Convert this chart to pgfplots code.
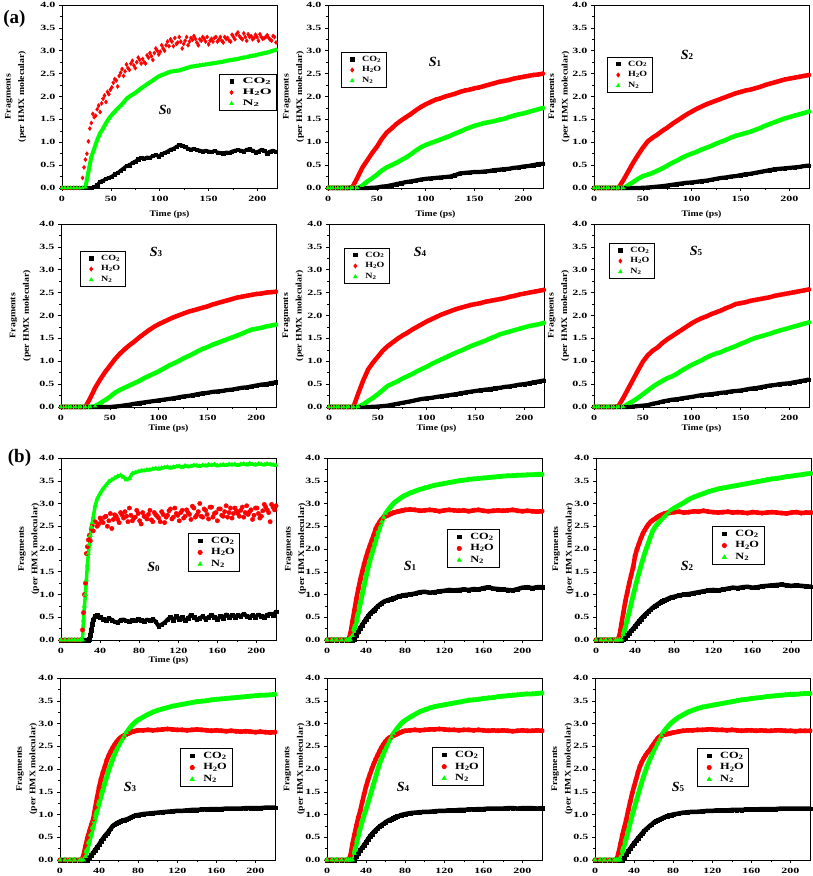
\documentclass[border=0pt]{standalone}
\usepackage{fontspec}
\setmainfont{Liberation Serif}
\newfontfamily\tickfam[FakeStretch=1.5]{Liberation Serif}
\newfontfamily\labfam[FakeStretch=1.15]{Liberation Serif}
\newfontfamily\legAfam[FakeStretch=1.8]{Liberation Serif}
\newfontfamily\legBfam[FakeStretch=1.25]{Liberation Serif}
\newfontfamily\legCfam[FakeStretch=1.3]{Liberation Serif}
\usepackage{graphicx}
\usepackage{pgfplots}
\usepackage{pgfplotstable}
\pgfplotsset{compat=1.18}
\newcommand{\tickfont}{\tickfam\bfseries\fontsize{8}{9}\selectfont}
\newcommand{\labfont}{\labfam\bfseries\fontsize{8.5}{13.5}\selectfont}
\newcommand{\legAfont}{\legAfam\bfseries\fontsize{8.5}{10}\selectfont}
\newcommand{\legBfont}{\legBfam\bfseries\fontsize{8}{9.5}\selectfont}
\newcommand{\legCfont}{\legCfam\bfseries\fontsize{9.5}{11}\selectfont}
\newcommand{\sub}[1]{\raisebox{-0.25ex}{\scalebox{0.7}{#1}}}
\newcommand{\Slab}[1]{{\fontsize{14}{14}\selectfont\bfseries\itshape S}{\fontsize{9}{9}\selectfont\bfseries #1}}

\pgfplotsset{
  base/.style={scale only axis, width=215pt, xmin=0, xmax=220, ymin=0, ymax=4,
    ytick={0,0.5,1,1.5,2,2.5,3,3.5,4}, minor x tick num=1, minor y tick num=1,
    tick align=outside, xtick pos=left, ytick pos=left,
    major tick length=3pt, minor tick length=1.6pt,
    axis line style={line width=0.6pt},
    every tick/.style={black, line width=0.5pt},
    clip=false,
    ticklabel style={font=\tickfont},
    /pgf/number format/assume math mode=true,
    yticklabel style={/pgf/number format/.cd, fixed, fixed zerofill, precision=1},
    xticklabel style={yshift=-1.5pt, /pgf/number format/.cd, fixed, precision=0},
    ylabel={Fragments\\(per HMX molecular)},
    ylabel style={font=\labfont, align=center},
    legend cell align=left,
    legend style={draw=black, line width=0.6pt, fill=white, inner xsep=3pt, inner ysep=1.5pt},
  },
  legimg/.style={legend image code/.code={\path[draw=none,fill=none] (0pt,0pt) -- (2*#1,0pt); \draw[##1] plot coordinates {(#1,0pt)};}},
  pa/.style={base, xtick={0,50,100,150,200}, legend style={font=\legBfont}, legimg=8pt},
  pb/.style={base, xtick={0,40,80,120,160,200}, legend style={font=\legCfont}, legimg=9pt},
  ylx/.style={ylabel style={at={(axis description cs:#1,0.5)}, anchor=center}},
  tlab/.style={xlabel={Time (ps)}, xlabel style={font=\labfont, at={(axis description cs:0.5,#1)}, anchor=center}},
  band/.style={no markers, line width=#1, line join=round, line cap=round, forget plot},
  co2a/.style={only marks, mark=square*, mark size=1.6pt, black},
  h2oa/.style={only marks, mark=diamond*, mark size=2.1pt, red},
  n2a/.style={only marks, mark=triangle*, mark size=2.1pt, green},
  co2b/.style={only marks, mark=square*, mark size=1.8pt, black},
  h2ob/.style={only marks, mark=*, mark size=2.2pt, red},
  n2b/.style={only marks, mark=triangle*, mark size=2.4pt, green},
}

\newcommand{\smoothA}[1]{%
  \addplot[band=4.2pt, black] table[x=t,y=c]{#1};
  \addplot[co2a] table[x=t,y=c]{#1}; \addlegendentry{CO\sub{2}}
  \addplot[band=4.5pt, red] table[x=t,y=h]{#1};
  \addplot[h2oa] table[x=t,y=h]{#1}; \addlegendentry{H\sub{2}O}
  \addplot[band=4.5pt, green] table[x=t,y=n]{#1};
  \addplot[n2a] table[x=t,y=n]{#1}; \addlegendentry{N\sub{2}}
}
\newcommand{\smoothB}[1]{%
  \addplot[band=4.5pt, black] table[x=t,y=c]{#1};
  \addplot[co2b] table[x=t,y=c]{#1}; \addlegendentry{CO\sub{2}}
  \addplot[band=4.5pt, red] table[x=t,y=h]{#1};
  \addplot[h2ob] table[x=t,y=h]{#1}; \addlegendentry{H\sub{2}O}
  \addplot[band=4.8pt, green] table[x=t,y=n]{#1};
  \addplot[n2b] table[x=t,y=n]{#1}; \addlegendentry{N\sub{2}}
}

% ---------------- (a) data ----------------
\pgfplotstableread{
t c h n
0 0 0 0
3 0 0 0
6 0 0 0
9 0 0 0
12 0 0 0
15 0 0 0
18 0 0 0
21 0 0.22 0
24 0 0.62 0.02
27 0 1.02 0.35
30 0 1.42 0.68
33 0.02 1.55 0.86
36 0.06 1.72 1.05
39 0.14 1.66 1.2
42 0.16 1.95 1.3
45 0.2 1.88 1.42
48 0.22 2.05 1.52
51 0.25 2.2 1.6
54 0.3 2.38 1.67
57 0.33 2.22 1.74
60 0.38 2.52 1.8
63 0.43 2.45 1.87
66 0.48 2.7 1.95
69 0.5 2.58 2.0
72 0.55 2.78 2.04
75 0.58 2.62 2.08
78 0.63 2.85 2.13
81 0.66 2.72 2.18
84 0.64 2.75 2.22
87 0.67 2.9 2.27
90 0.66 2.95 2.31
93 0.7 2.8 2.35
96 0.72 3.05 2.4
99 0.69 2.92 2.44
102 0.74 3.12 2.47
105 0.77 3.0 2.49
108 0.8 3.2 2.52
111 0.84 3.25 2.54
114 0.86 3.1 2.55
117 0.9 3.15 2.56
120 0.94 3.3 2.57
123 0.93 3.05 2.59
126 0.9 3.22 2.61
129 0.86 3.12 2.63
132 0.84 3.28 2.65
135 0.86 3.32 2.66
138 0.83 3.18 2.67
141 0.82 3.25 2.68
144 0.8 3.3 2.69
147 0.82 3.2 2.7
150 0.8 3.14 2.71
153 0.79 3.26 2.72
156 0.81 3.28 2.73
159 0.78 3.2 2.74
162 0.77 3.3 2.75
165 0.76 3.18 2.76
168 0.78 3.26 2.78
171 0.77 3.22 2.79
174 0.8 3.35 2.8
177 0.82 3.25 2.81
180 0.83 3.4 2.82
183 0.82 3.28 2.84
186 0.8 3.38 2.85
189 0.84 3.22 2.86
192 0.85 3.3 2.88
195 0.82 3.25 2.89
198 0.78 3.35 2.9
201 0.8 3.22 2.92
204 0.84 3.3 2.93
207 0.82 3.28 2.95
210 0.76 3.34 2.96
213 0.8 3.24 2.98
216 0.82 3.32 3.0
219 0.79 3.18 3.02
}\tAzero

\pgfplotstableread{
t h
22.5 0.45
25.5 0.75
28.5 1.3
31.5 1.62
34.5 1.58
37.5 1.8
40.5 1.85
43.5 2.02
46.5 2.1
49.5 2.15
52.5 2.3
55.5 2.35
58.5 2.45
61.5 2.6
64.5 2.55
67.5 2.62
70.5 2.72
73.5 2.68
76.5 2.75
79.5 2.8
82.5 2.82
85.5 2.72
88.5 2.85
91.5 2.88
94.5 2.95
97.5 3.0
100.5 2.98
103.5 3.05
106.5 3.12
109.5 3.1
112.5 3.2
115.5 3.28
118.5 3.18
121.5 3.2
124.5 3.15
127.5 3.3
130.5 3.2
133.5 3.24
136.5 3.26
139.5 3.12
142.5 3.22
145.5 3.26
148.5 3.3
151.5 3.22
154.5 3.2
157.5 3.3
160.5 3.24
163.5 3.22
166.5 3.3
169.5 3.28
172.5 3.2
175.5 3.3
178.5 3.36
181.5 3.32
184.5 3.25
187.5 3.3
190.5 3.36
193.5 3.32
196.5 3.28
199.5 3.3
202.5 3.36
205.5 3.26
208.5 3.3
211.5 3.28
214.5 3.22
217.5 3.3
}\tAzeroH

\pgfplotstableread{
t c h n
0 0 0 0
5 0 0 0
10 0 0 0
15 0 0 0
20 0 0 0
25 0 0.02 0
30 0 0.22 0
35 0 0.44 0.05
40 0 0.6 0.14
45 0.005 0.76 0.21
50 0.01 0.9 0.29
55 0.03 1.07 0.38
60 0.04 1.21 0.45
65 0.06 1.3 0.5
70 0.085 1.4 0.55
75 0.105 1.48 0.61
80 0.13 1.55 0.67
85 0.145 1.62 0.74
90 0.165 1.7 0.82
95 0.185 1.77 0.89
100 0.2 1.83 0.94
105 0.21 1.88 0.98
110 0.22 1.93 1.02
115 0.23 1.96 1.06
120 0.24 2.0 1.1
125 0.25 2.03 1.14
130 0.28 2.06 1.19
135 0.32 2.1 1.23
140 0.33 2.13 1.28
145 0.34 2.15 1.32
150 0.35 2.18 1.36
155 0.35 2.2 1.39
160 0.36 2.23 1.42
165 0.37 2.26 1.44
170 0.39 2.29 1.46
175 0.4 2.32 1.49
180 0.41 2.34 1.51
185 0.42 2.36 1.55
190 0.44 2.39 1.58
195 0.45 2.41 1.61
200 0.47 2.43 1.63
205 0.48 2.45 1.66
210 0.5 2.47 1.69
215 0.52 2.48 1.72
220 0.53 2.5 1.75
}\tAone

\pgfplotstableread{
t c h n
0 0 0 0
5 0 0 0
10 0 0 0
15 0 0 0
20 0 0 0
25 0 0 0
30 0 0.17 0
35 0 0.36 0.06
40 0 0.55 0.13
45 0 0.72 0.2
50 0.005 0.88 0.26
55 0.01 1.02 0.29
60 0.02 1.1 0.33
65 0.03 1.17 0.38
70 0.04 1.25 0.43
75 0.055 1.32 0.49
80 0.07 1.4 0.55
85 0.085 1.47 0.6
90 0.1 1.54 0.66
95 0.115 1.61 0.71
100 0.12 1.67 0.75
105 0.135 1.73 0.79
110 0.15 1.78 0.84
115 0.16 1.83 0.88
120 0.18 1.87 0.92
125 0.2 1.91 0.97
130 0.22 1.95 1.01
135 0.23 1.99 1.05
140 0.25 2.03 1.1
145 0.26 2.07 1.14
150 0.28 2.1 1.17
155 0.3 2.13 1.2
160 0.31 2.15 1.23
165 0.33 2.18 1.27
170 0.35 2.21 1.31
175 0.37 2.25 1.36
180 0.39 2.28 1.4
185 0.41 2.31 1.44
190 0.42 2.34 1.48
195 0.43 2.37 1.52
200 0.44 2.39 1.55
205 0.45 2.41 1.58
210 0.46 2.43 1.61
215 0.48 2.45 1.64
220 0.49 2.47 1.67
}\tAtwo

\pgfplotstableread{
t c h n
0 0 0 0
5 0 0 0
10 0 0 0
15 0 0 0
20 0 0 0
25 0 0 0
30 0 0.2 0
35 0 0.42 0.02
40 0 0.6 0.08
45 0 0.76 0.15
50 0 0.9 0.22
55 0.01 1.04 0.31
60 0.02 1.16 0.37
65 0.035 1.26 0.42
70 0.05 1.35 0.47
75 0.07 1.43 0.52
80 0.085 1.52 0.57
85 0.1 1.6 0.63
90 0.115 1.68 0.68
95 0.13 1.75 0.73
100 0.145 1.81 0.78
105 0.16 1.86 0.84
110 0.175 1.91 0.9
115 0.19 1.96 0.95
120 0.21 2.0 1.0
125 0.23 2.04 1.06
130 0.24 2.08 1.11
135 0.26 2.11 1.16
140 0.28 2.14 1.22
145 0.3 2.17 1.27
150 0.31 2.2 1.31
155 0.33 2.24 1.36
160 0.34 2.27 1.4
165 0.35 2.3 1.44
170 0.37 2.33 1.48
175 0.38 2.36 1.52
180 0.4 2.39 1.56
185 0.42 2.41 1.6
190 0.43 2.43 1.65
195 0.45 2.45 1.69
200 0.47 2.47 1.71
205 0.49 2.48 1.73
210 0.5 2.5 1.76
215 0.52 2.51 1.78
220 0.54 2.52 1.8
}\tAthree

\pgfplotstableread{
t c h n
0 0 0 0
5 0 0 0
10 0 0 0
15 0 0 0
20 0 0 0
25 0 0 0
30 0 0.3 0
35 0 0.58 0.06
40 0 0.82 0.13
45 0.005 0.97 0.2
50 0.01 1.1 0.28
55 0.02 1.23 0.37
60 0.03 1.33 0.46
65 0.05 1.41 0.51
70 0.07 1.49 0.56
75 0.09 1.56 0.62
80 0.11 1.62 0.67
85 0.13 1.69 0.72
90 0.155 1.75 0.78
95 0.175 1.81 0.83
100 0.19 1.87 0.88
105 0.2 1.92 0.94
110 0.22 1.97 0.99
115 0.235 2.02 1.04
120 0.25 2.06 1.09
125 0.265 2.1 1.14
130 0.28 2.14 1.19
135 0.3 2.17 1.23
140 0.32 2.2 1.28
145 0.335 2.23 1.33
150 0.35 2.25 1.37
155 0.365 2.27 1.41
160 0.38 2.3 1.45
165 0.39 2.32 1.5
170 0.41 2.34 1.54
175 0.42 2.36 1.59
180 0.44 2.38 1.62
185 0.45 2.41 1.65
190 0.47 2.43 1.68
195 0.49 2.46 1.71
200 0.5 2.48 1.74
205 0.52 2.5 1.77
210 0.54 2.52 1.79
215 0.56 2.54 1.81
220 0.58 2.56 1.84
}\tAfour

\pgfplotstableread{
t c h n
0 0 0 0
5 0 0 0
10 0 0 0
15 0 0 0
20 0 0 0
25 0 0.02 0
30 0 0.2 0
35 0 0.4 0.07
40 0.01 0.6 0.13
45 0.02 0.8 0.2
50 0.03 0.99 0.28
55 0.04 1.13 0.36
60 0.07 1.23 0.44
65 0.09 1.3 0.51
70 0.12 1.4 0.57
75 0.14 1.48 0.63
80 0.16 1.55 0.67
85 0.17 1.62 0.73
90 0.19 1.69 0.8
95 0.205 1.76 0.86
100 0.22 1.83 0.92
105 0.24 1.89 0.97
110 0.26 1.94 1.02
115 0.27 1.98 1.08
120 0.28 2.03 1.13
125 0.295 2.07 1.17
130 0.31 2.11 1.2
135 0.32 2.16 1.25
140 0.34 2.2 1.29
145 0.35 2.25 1.33
150 0.36 2.27 1.38
155 0.38 2.29 1.42
160 0.4 2.32 1.47
165 0.41 2.34 1.51
170 0.43 2.36 1.54
175 0.45 2.38 1.57
180 0.47 2.4 1.6
185 0.48 2.43 1.64
190 0.5 2.45 1.67
195 0.51 2.47 1.7
200 0.52 2.49 1.73
205 0.54 2.51 1.76
210 0.56 2.53 1.79
215 0.58 2.55 1.82
220 0.6 2.57 1.85
}\tAfive

% ---------------- (b) data ----------------
\pgfplotstableread{
t c h n
0 0 0 0
4 0 0 0
8 0 0 0
11 0 0 0
14 0 0 0
17 0 0 0
20 0 0 0
22 0 0.22 0
23 0 0.6 0.44
24 0 1.0 0.75
25 0 1.25 1.0
26 0 1.9 1.32
27 0 2.05 1.65
28 0 2.2 1.9
29 0.02 2.3 2.1
30 0.1 2.18 2.3
31 0.22 2.45 2.48
32 0.35 2.52 2.58
33 0.45 2.4 2.7
35 0.52 2.6 2.95
37 0.55 2.5 3.1
40 0.5 2.68 3.22
43 0.46 2.58 3.32
46 0.42 2.72 3.4
49 0.48 2.62 3.48
52 0.44 2.45 3.52
55 0.4 2.75 3.56
58 0.38 2.65 3.6
61 0.44 2.8 3.62
64 0.45 2.68 3.58
67 0.42 2.72 3.52
70 0.4 2.9 3.55
73 0.44 2.62 3.66
76 0.42 2.7 3.68
79 0.46 2.78 3.7
82 0.43 2.55 3.72
85 0.4 2.72 3.72
88 0.45 2.66 3.74
91 0.42 2.85 3.74
94 0.46 2.6 3.76
97 0.4 2.75 3.77
100 0.3 2.68 3.76
103 0.34 2.82 3.78
106 0.38 2.58 3.79
109 0.45 2.74 3.8
112 0.5 2.88 3.78
115 0.44 2.7 3.8
118 0.52 2.78 3.81
121 0.46 2.62 3.82
124 0.5 2.85 3.8
127 0.42 2.72 3.83
130 0.48 2.8 3.81
133 0.55 2.65 3.82
136 0.5 2.9 3.84
139 0.45 2.75 3.83
142 0.48 3.0 3.82
145 0.52 2.7 3.84
148 0.46 2.85 3.83
151 0.5 2.66 3.85
154 0.55 2.92 3.84
157 0.5 2.78 3.86
160 0.45 2.62 3.83
163 0.52 2.88 3.84
166 0.48 2.72 3.85
169 0.56 2.95 3.84
172 0.5 2.8 3.86
175 0.54 2.68 3.85
178 0.5 2.9 3.86
181 0.55 2.78 3.84
184 0.52 2.85 3.86
187 0.58 2.7 3.87
190 0.52 2.95 3.85
193 0.5 2.82 3.88
196 0.55 2.65 3.86
199 0.5 2.9 3.85
202 0.56 2.78 3.87
205 0.52 2.72 3.86
208 0.5 2.98 3.85
211 0.55 2.86 3.87
214 0.58 2.6 3.86
217 0.55 2.92 3.85
220 0.62 2.95 3.84
}\tBzero

\pgfplotstableread{
t h
38.5 2.55
41.5 2.62
44.5 2.7
47.5 2.5
50.5 2.78
53.5 2.65
56.5 2.72
59.5 2.58
62.5 2.75
65.5 2.82
68.5 2.6
71.5 2.74
74.5 2.68
77.5 2.85
80.5 2.62
83.5 2.8
86.5 2.7
89.5 2.76
92.5 2.64
95.5 2.8
98.5 2.72
101.5 2.6
104.5 2.76
107.5 2.7
110.5 2.84
113.5 2.66
116.5 2.9
119.5 2.74
122.5 2.8
125.5 2.68
128.5 2.86
131.5 2.76
134.5 2.94
137.5 2.7
140.5 2.82
143.5 2.72
146.5 2.88
149.5 2.76
152.5 2.92
155.5 2.7
158.5 2.8
161.5 2.88
164.5 2.74
167.5 2.82
170.5 2.7
173.5 2.9
176.5 2.78
179.5 2.84
182.5 2.72
185.5 2.92
188.5 2.8
191.5 2.76
194.5 2.86
197.5 2.74
200.5 2.9
203.5 2.68
206.5 2.84
209.5 2.92
212.5 2.8
215.5 2.98
218.5 2.86
}\tBzeroH

\pgfplotstableread{
t c h n
0 0 0 0
5 0 0 0
10 0 0 0
15 0 0 0
20 0 0 0
22 0 0 0
24 0 0.15 0
26 0 0.4 0.1
28 0.02 0.65 0.25
30 0.1 0.9 0.4
32 0.18 1.12 0.6
34 0.26 1.32 0.8
36 0.33 1.5 1.0
38 0.4 1.67 1.2
40 0.46 1.82 1.4
42 0.52 1.96 1.58
44 0.58 2.08 1.75
46 0.62 2.2 1.9
48 0.66 2.32 2.05
50 0.7 2.45 2.2
52 0.74 2.53 2.35
54 0.78 2.6 2.48
56 0.81 2.66 2.6
58 0.84 2.7 2.7
60 0.86 2.72 2.78
62 0.87 2.74 2.84
64 0.89 2.76 2.9
66 0.9 2.78 2.95
68 0.92 2.8 3.0
70 0.93 2.81 3.04
72 0.95 2.82 3.07
74 0.96 2.83 3.1
76 0.97 2.84 3.13
78 0.98 2.85 3.16
80 0.99 2.86 3.18
85 1.0 2.87 3.23
90 1.02 2.86 3.27
95 1.05 2.84 3.31
100 1.06 2.85 3.34
105 1.04 2.86 3.37
110 1.05 2.85 3.4
115 1.07 2.83 3.42
120 1.08 2.85 3.44
125 1.1 2.86 3.46
130 1.09 2.85 3.48
135 1.1 2.84 3.5
140 1.11 2.85 3.51
145 1.1 2.83 3.53
150 1.12 2.85 3.54
155 1.11 2.86 3.55
160 1.14 2.84 3.56
165 1.16 2.83 3.57
170 1.13 2.84 3.58
175 1.12 2.85 3.59
180 1.11 2.84 3.6
185 1.1 2.85 3.61
190 1.09 2.86 3.61
195 1.12 2.84 3.62
200 1.15 2.83 3.62
205 1.16 2.84 3.63
210 1.14 2.83 3.63
215 1.16 2.82 3.64
220 1.16 2.83 3.64
}\tBone

\pgfplotstableread{
t c h n
0 0 0 0
5 0 0 0
10 0 0 0
15 0 0 0
20 0 0 0
22 0 0 0
24 0 0.1 0
26 0 0.35 0
28 0.01 0.6 0.12
30 0.05 0.85 0.28
32 0.1 1.05 0.45
34 0.15 1.25 0.62
36 0.2 1.43 0.8
38 0.25 1.6 0.98
40 0.3 1.85 1.15
42 0.36 2.0 1.32
44 0.41 2.12 1.48
46 0.46 2.24 1.63
48 0.51 2.34 1.78
50 0.55 2.42 1.92
52 0.59 2.49 2.04
54 0.63 2.55 2.16
56 0.67 2.6 2.28
58 0.71 2.63 2.4
60 0.74 2.66 2.47
62 0.77 2.69 2.53
64 0.8 2.72 2.58
66 0.83 2.74 2.63
68 0.85 2.76 2.68
70 0.87 2.78 2.72
72 0.89 2.79 2.76
74 0.91 2.8 2.8
76 0.93 2.8 2.84
78 0.94 2.81 2.87
80 0.95 2.81 2.9
85 0.98 2.82 2.96
90 1.0 2.8 3.02
95 1.01 2.81 3.09
100 1.03 2.83 3.14
105 1.05 2.82 3.18
110 1.07 2.84 3.22
115 1.09 2.82 3.26
120 1.1 2.81 3.29
125 1.09 2.8 3.32
130 1.11 2.81 3.34
135 1.13 2.82 3.36
140 1.15 2.8 3.38
145 1.14 2.81 3.4
150 1.16 2.8 3.42
155 1.17 2.79 3.44
160 1.15 2.81 3.46
165 1.16 2.8 3.48
170 1.18 2.79 3.5
175 1.19 2.8 3.52
180 1.2 2.81 3.54
185 1.21 2.8 3.55
190 1.22 2.79 3.57
195 1.2 2.78 3.59
200 1.19 2.8 3.6
205 1.2 2.81 3.62
210 1.19 2.79 3.63
215 1.18 2.8 3.65
220 1.17 2.8 3.66
}\tBtwo

\pgfplotstableread{
t c h n
0 0 0 0
5 0 0 0
10 0 0 0
15 0 0 0
20 0 0 0
22 0 0 0
24 0 0.1 0
26 0 0.3 0.08
28 0 0.48 0.25
30 0.04 0.63 0.42
32 0.1 0.77 0.58
34 0.16 0.9 0.75
36 0.22 1.15 0.92
38 0.28 1.38 1.08
40 0.34 1.6 1.25
42 0.41 1.78 1.4
44 0.47 1.93 1.55
46 0.53 2.06 1.7
48 0.58 2.2 1.84
50 0.63 2.3 1.98
52 0.69 2.39 2.1
54 0.75 2.47 2.22
56 0.78 2.54 2.33
58 0.81 2.6 2.43
60 0.83 2.65 2.52
62 0.85 2.69 2.6
64 0.87 2.72 2.67
66 0.88 2.74 2.74
68 0.89 2.76 2.8
70 0.91 2.78 2.86
72 0.93 2.8 2.92
74 0.95 2.82 2.97
76 0.97 2.83 3.01
78 0.98 2.84 3.05
80 0.99 2.85 3.08
85 1.01 2.85 3.14
90 1.02 2.86 3.2
95 1.03 2.85 3.25
100 1.04 2.86 3.29
105 1.05 2.87 3.32
110 1.06 2.88 3.35
115 1.07 2.87 3.38
120 1.08 2.86 3.4
125 1.08 2.86 3.42
130 1.09 2.85 3.44
135 1.1 2.86 3.46
140 1.1 2.87 3.48
145 1.11 2.86 3.49
150 1.11 2.85 3.5
155 1.12 2.84 3.52
160 1.12 2.85 3.53
165 1.12 2.84 3.54
170 1.13 2.83 3.55
175 1.13 2.84 3.56
180 1.13 2.83 3.57
185 1.13 2.82 3.58
190 1.14 2.83 3.59
195 1.14 2.82 3.6
200 1.14 2.81 3.61
205 1.14 2.82 3.62
210 1.15 2.81 3.62
215 1.15 2.8 3.63
220 1.15 2.81 3.64
}\tBthree

\pgfplotstableread{
t c h n
0 0 0 0
5 0 0 0
10 0 0 0
15 0 0 0
20 0 0 0
22 0 0 0
24 0 0.1 0
26 0 0.35 0
28 0 0.55 0.15
30 0.07 0.75 0.35
32 0.14 0.93 0.53
34 0.21 1.08 0.7
36 0.27 1.27 0.85
38 0.33 1.45 0.99
40 0.39 1.62 1.12
42 0.46 1.76 1.26
44 0.52 1.89 1.4
46 0.57 2.01 1.55
48 0.62 2.12 1.7
50 0.66 2.22 1.84
52 0.7 2.31 1.99
54 0.74 2.4 2.13
56 0.77 2.48 2.24
58 0.8 2.55 2.35
60 0.83 2.61 2.45
62 0.86 2.66 2.55
64 0.88 2.69 2.64
66 0.9 2.71 2.71
68 0.92 2.73 2.78
70 0.94 2.75 2.84
72 0.96 2.77 2.9
74 0.97 2.79 2.95
76 0.99 2.81 3.0
78 1.0 2.83 3.04
80 1.01 2.84 3.07
85 1.03 2.85 3.14
90 1.04 2.86 3.2
95 1.05 2.85 3.26
100 1.06 2.86 3.3
105 1.06 2.87 3.34
110 1.07 2.87 3.37
115 1.08 2.88 3.39
120 1.08 2.87 3.41
125 1.09 2.86 3.43
130 1.09 2.86 3.45
135 1.1 2.85 3.47
140 1.1 2.86 3.49
145 1.11 2.86 3.51
150 1.11 2.85 3.52
155 1.12 2.86 3.53
160 1.12 2.85 3.55
165 1.13 2.84 3.56
170 1.13 2.85 3.57
175 1.13 2.84 3.59
180 1.13 2.85 3.6
185 1.14 2.84 3.61
190 1.14 2.83 3.62
195 1.13 2.84 3.63
200 1.14 2.85 3.64
205 1.14 2.84 3.65
210 1.14 2.84 3.65
215 1.13 2.85 3.66
220 1.14 2.84 3.67
}\tBfour

\pgfplotstableread{
t c h n
0 0 0 0
5 0 0 0
10 0 0 0
15 0 0 0
20 0 0 0
22 0 0 0
24 0 0.15 0
26 0 0.35 0
28 0 0.55 0.18
30 0.05 0.72 0.33
32 0.12 0.89 0.48
34 0.19 1.09 0.64
36 0.25 1.28 0.82
38 0.31 1.46 0.98
40 0.37 1.62 1.13
42 0.42 1.77 1.28
44 0.48 1.93 1.43
46 0.53 2.06 1.58
48 0.58 2.16 1.72
50 0.63 2.24 1.86
52 0.67 2.31 1.98
54 0.71 2.37 2.1
56 0.75 2.42 2.2
58 0.78 2.49 2.3
60 0.82 2.55 2.4
62 0.85 2.61 2.49
64 0.87 2.67 2.58
66 0.89 2.71 2.66
68 0.91 2.73 2.74
70 0.93 2.75 2.81
72 0.95 2.76 2.87
74 0.96 2.77 2.92
76 0.98 2.78 2.97
78 0.99 2.79 3.01
80 1.0 2.8 3.05
85 1.02 2.82 3.13
90 1.04 2.84 3.19
95 1.05 2.85 3.25
100 1.06 2.85 3.29
105 1.06 2.86 3.33
110 1.07 2.86 3.36
115 1.08 2.87 3.38
120 1.08 2.87 3.4
125 1.09 2.86 3.42
130 1.09 2.86 3.44
135 1.09 2.85 3.46
140 1.1 2.86 3.48
145 1.1 2.85 3.5
150 1.1 2.84 3.52
155 1.11 2.85 3.53
160 1.11 2.85 3.55
165 1.11 2.84 3.56
170 1.12 2.85 3.57
175 1.12 2.84 3.59
180 1.12 2.84 3.6
185 1.12 2.85 3.61
190 1.13 2.85 3.62
195 1.13 2.84 3.63
200 1.13 2.84 3.64
205 1.13 2.83 3.64
210 1.13 2.84 3.65
215 1.13 2.84 3.66
220 1.13 2.84 3.66
}\tBfive

\begin{document}
\begin{tikzpicture}
\useasboundingbox (0,0) rectangle (813pt,876pt);

% ===== Row 1 : (a) S0 S1 S2 =====
\begin{axis}[pa, height=183pt, at={(62pt,688pt)}, anchor=south west, ylx=-0.216, tlab=-0.147,
  legend style={at={(1.0,0.623)}, anchor=north east, font=\legAfont}, legimg=9pt]
\addplot[band=3.5pt, black] table[x=t,y=c]{\tAzero};
\addplot[co2a] table[x=t,y=c]{\tAzero}; \addlegendentry{CO\sub{2}}
\addplot[h2oa] table[x=t,y=h]{\tAzero}; \addlegendentry{H\sub{2}O}
\addplot[h2oa, forget plot] table[x=t,y=h]{\tAzeroH};
\addplot[band=4pt, green] table[x=t,y=n]{\tAzero};
\addplot[n2a] table[x=t,y=n]{\tAzero}; \addlegendentry{N\sub{2}}
\node at (axis description cs:0.479,0.426) {\Slab{0}};
\node[font=\bfseries\fontsize{19}{19}\selectfont] at (axis description cs:-0.221,0.923) {(a)};
\end{axis}

\begin{axis}[pa, height=183pt, at={(328pt,688pt)}, anchor=south west, ylx=-0.16, tlab=-0.147,
  legend style={at={(0.06,0.743)}, anchor=north west}]
\smoothA{\tAone}
\node at (axis description cs:0.498,0.689) {\Slab{1}};
\end{axis}

\begin{axis}[pa, height=183pt, at={(594pt,688pt)}, anchor=south west, ylx=-0.163, tlab=-0.147,
  legend style={at={(0.06,0.716)}, anchor=north west}]
\smoothA{\tAtwo}
\node at (axis description cs:0.433,0.727) {\Slab{2}};
\end{axis}

% ===== Row 2 : (a) S3 S4 S5 =====
\begin{axis}[pa, height=183pt, at={(61pt,469pt)}, anchor=south west, ylx=-0.19, tlab=-0.12,
  legend style={at={(0.088,0.852)}, anchor=north west}]
\smoothA{\tAthree}
\node at (axis description cs:0.442,0.847) {\Slab{3}};
\end{axis}

\begin{axis}[pa, height=183pt, at={(329pt,469pt)}, anchor=south west, ylx=-0.167, tlab=-0.12,
  legend style={at={(0.07,0.869)}, anchor=north west}]
\smoothA{\tAfour}
\node at (axis description cs:0.423,0.847) {\Slab{4}};
\end{axis}

\begin{axis}[pa, height=183pt, at={(594pt,469pt)}, anchor=south west, ylx=-0.165, tlab=-0.12,
  legend style={at={(0.07,0.896)}, anchor=north west}]
\smoothA{\tAfive}
\node at (axis description cs:0.474,0.852) {\Slab{5}};
\end{axis}

% ===== Row 3 : (b) S0 S1 S2 =====
\begin{axis}[pb, height=182pt, at={(61pt,236pt)}, anchor=south west, ylx=-0.15, tlab=-0.115,
  legend style={at={(0.59,0.588)}, anchor=north west}]
\addplot[band=4pt, black] table[x=t,y=c]{\tBzero};
\addplot[co2b] table[x=t,y=c]{\tBzero}; \addlegendentry{CO\sub{2}}
\addplot[h2ob] table[x=t,y=h]{\tBzero}; \addlegendentry{H\sub{2}O}
\addplot[h2ob, forget plot] table[x=t,y=h]{\tBzeroH};
\addplot[band=3.5pt, green] table[x=t,y=n]{\tBzero};
\addplot[n2b] table[x=t,y=n]{\tBzero}; \addlegendentry{N\sub{2}}
\node at (axis description cs:0.43,0.40) {\Slab{0}};
\node[font=\bfseries\fontsize{19}{19}\selectfont] at (axis description cs:-0.193,1.003) {(b)};
\end{axis}

\begin{axis}[pb, height=182pt, at={(327pt,236pt)}, anchor=south west, ylx=-0.147,
  legend style={at={(0.558,0.61)}, anchor=north west}]
\smoothB{\tBone}
\node at (axis description cs:0.386,0.405) {\Slab{1}};
\end{axis}

\begin{axis}[pb, height=182pt, at={(596pt,236pt)}, anchor=south west, ylx=-0.153,
  legend style={at={(0.54,0.626)}, anchor=north west}]
\smoothB{\tBtwo}
\node at (axis description cs:0.423,0.405) {\Slab{2}};
\end{axis}

% ===== Row 4 : (b) S3 S4 S5 =====
\begin{axis}[pb, height=182pt, at={(60pt,16pt)}, anchor=south west, ylx=-0.155,
  legend style={at={(0.558,0.615)}, anchor=north west}]
\smoothB{\tBthree}
\node at (axis description cs:0.326,0.40) {\Slab{3}};
\end{axis}

\begin{axis}[pb, height=182pt, at={(327pt,16pt)}, anchor=south west, ylx=-0.152,
  legend style={at={(0.488,0.62)}, anchor=north west}]
\smoothB{\tBfour}
\node at (axis description cs:0.353,0.40) {\Slab{4}};
\end{axis}

\begin{axis}[pb, height=182pt, at={(595pt,16pt)}, anchor=south west, ylx=-0.153,
  legend style={at={(0.474,0.615)}, anchor=north west}]
\smoothB{\tBfive}
\node at (axis description cs:0.386,0.40) {\Slab{5}};
\end{axis}

\end{tikzpicture}
\end{document}
